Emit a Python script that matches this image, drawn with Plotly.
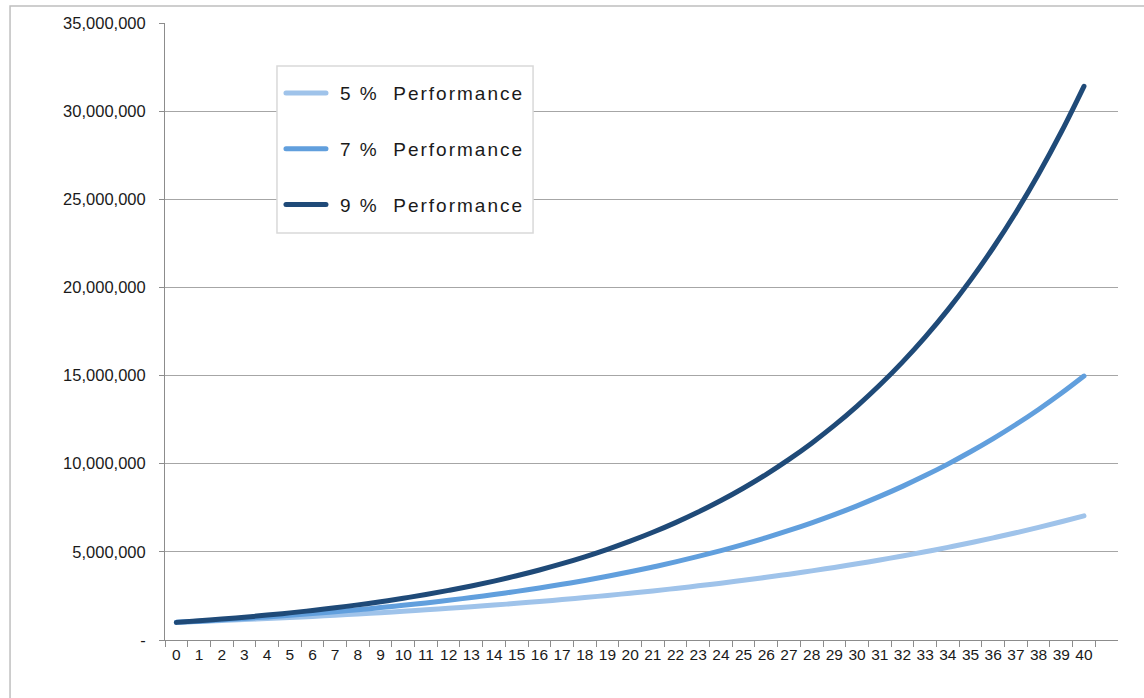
import plotly.graph_objects as go

years = [str(i) for i in range(41)]

perf_5 = [1000, 1050, 1103, 1158, 1216, 1276, 1340, 1407, 1477, 1551, 1629, 1710, 1796, 1886,
          1980, 2079, 2183, 2292, 2407, 2527, 2653, 2786, 2925, 3072, 3225, 3386, 3556, 3733,
          3920, 4116, 4322, 4538, 4765, 5003, 5253, 5516, 5792, 6081, 6385, 6705, 7040]
perf_7 = [1000, 1070, 1145, 1225, 1311, 1403, 1501, 1606, 1718, 1838, 1967, 2105, 2252, 2410,
          2579, 2759, 2952, 3159, 3380, 3617, 3870, 4141, 4430, 4741, 5072, 5427, 5807, 6214,
          6649, 7114, 7612, 8145, 8715, 9325, 9978, 10677, 11424, 12224, 13079, 13995, 14974]
perf_9 = [1000, 1090, 1188, 1295, 1412, 1539, 1677, 1828, 1993, 2172, 2367, 2580, 2813, 3066,
          3342, 3642, 3970, 4328, 4717, 5142, 5604, 6109, 6659, 7258, 7911, 8623, 9399, 10245,
          11167, 12172, 13268, 14462, 15763, 17182, 18728, 20414, 22251, 24254, 26437, 28816, 31409]

series_names = ["5 %\u00a0\u00a0Performance", "7 %\u00a0\u00a0Performance", "9 %\u00a0\u00a0Performance"]
series_values = [perf_5, perf_7, perf_9]
series_colors = ["#9fc3ea", "#619fdd", "#1f4a78"]

y_tickvals = [0, 5000000, 10000000, 15000000, 20000000, 25000000, 30000000, 35000000]
y_ticktext = ["-", "5,000,000", "10,000,000", "15,000,000", "20,000,000", "25,000,000",
              "30,000,000", "35,000,000"]

fig = go.Figure()
for i, (name, vals, col) in enumerate(zip(series_names, series_values, series_colors)):
    fig.add_trace(go.Scatter(
        x=years, y=[v * 1000 for v in vals], name=name, mode="lines",
        line=dict(color=col, width=5, shape="spline"),
        legendgroup=str(i),
    ))

fig.update_layout(
    width=1144, height=698,
    margin=dict(l=165, r=26, t=23, b=58, autoexpand=False),
    paper_bgcolor="white", plot_bgcolor="white",
    font=dict(family="Liberation Sans, Arial, sans-serif", size=15, color="#1a1a1a"),
    showlegend=True,
    legend=dict(
        x=0.1175, y=0.917, xanchor="left", yanchor="top",
        bgcolor="rgba(0,0,0,0)", borderwidth=0,
        font=dict(size=19, color="#1a1a1a"),
        traceorder="grouped", tracegroupgap=28,
        itemwidth=40,
    ),
    xaxis=dict(
        type="category", range=[-0.5, 41.5], tickson="boundaries",
        showgrid=False, showline=True, linecolor="#8c8c8c", linewidth=1,
        ticks="outside", ticklen=6, tickcolor="#8c8c8c", tickangle=0,
        tickfont=dict(size=15.5), fixedrange=True,
    ),
    yaxis=dict(
        range=[0, 35000000], tickvals=y_tickvals, ticktext=y_ticktext,
        showgrid=True, gridcolor="#a6a6a6", gridwidth=1,
        showline=True, linecolor="#8c8c8c", linewidth=1,
        ticks="outside", ticklen=5, tickcolor="#8c8c8c",
        tickfont=dict(size=16.5), zeroline=False, ticklabelstandoff=10,
    ),
    shapes=[
        dict(type="rect", xref="paper", yref="paper",
             x0=-0.1626, x1=1.2, y0=-0.3, y1=1.0276,
             line=dict(color="#bfbfbf", width=1.5), fillcolor="rgba(0,0,0,0)",
             layer="below"),
        dict(type="rect", xref="paper", yref="paper",
             x0=0.1175, x1=0.3862, y0=0.6596, y1=0.9303,
             line=dict(color="#d9d9d9", width=1.5), fillcolor="white",
             layer="above"),
    ],
)

post = """
document.body.style.margin='0px';
function tweak(){
  document.querySelectorAll('.legend .scrollbox').forEach(function(e){e.removeAttribute('clip-path');});
  document.querySelectorAll('.legend').forEach(function(e){e.removeAttribute('clip-path');});
  document.querySelectorAll('.legendtext').forEach(function(e){
    e.style.letterSpacing='2px'; e.setAttribute('x', 63);
  });
  document.querySelectorAll('.legendlines path').forEach(function(e){
    e.setAttribute('d','M9,0h40'); e.style.strokeLinecap='round';
  });
  document.querySelectorAll('.scatterlayer .js-line').forEach(function(e){
    e.style.strokeLinecap='round';
  });
}
tweak();
"""
fig.write_html("out.html", post_script=post, config={"displayModeBar": False})
